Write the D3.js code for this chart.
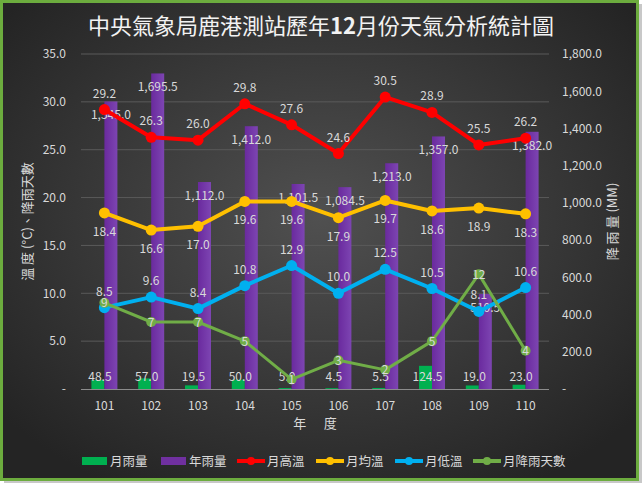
<!DOCTYPE html>
<html><head><meta charset="utf-8">
<script src="https://cdn.jsdelivr.net/npm/d3@7"></script>
<style>
html,body{margin:0;padding:0;background:#fff;}
svg{display:block;}
text{font-family:"Noto Sans CJK TC","Noto Sans",sans-serif;}
</style></head>
<body>
<svg id="c" width="643" height="484"></svg>
<script>
const categories = ["101","102","103","104","105","106","107","108","109","110"];
const monthRain = [48.5,57.0,19.5,50.0,5.0,4.5,5.5,124.5,19.0,23.0];
const yearRain = [1545.0,1695.5,1112.0,1412.0,1101.5,1084.5,1213.0,1357.0,510.5,1382.0];
const highTemp = [29.2,26.3,26.0,29.8,27.6,24.6,30.5,28.9,25.5,26.2];
const avgTemp = [18.4,16.6,17.0,19.6,19.6,17.9,19.7,18.6,18.9,18.3];
const lowTemp = [8.5,9.6,8.4,10.8,12.9,10.0,12.5,10.5,8.1,10.6];
const rainDays = [9,7,7,5,1,3,2,5,12,4];
const leftTicks = [0,5,10,15,20,25,30,35];
const rightTicks = [0,200,400,600,800,1000,1200,1400,1600,1800];
const titleParts = ["中央氣象局鹿港測站歷年","12","月份天氣分析統計圖"];

const svg = d3.select("#c");
const defs = svg.append("defs");
const rg = defs.append("radialGradient").attr("id","bg").attr("cx","50%").attr("cy","45%").attr("r","65%");
rg.append("stop").attr("offset","0%").attr("stop-color","#505050");
rg.append("stop").attr("offset","100%").attr("stop-color","#242424");
const pg = defs.append("linearGradient").attr("id","pur").attr("x1","0").attr("x2","1").attr("y1","0").attr("y2","0");
pg.append("stop").attr("offset","0%").attr("stop-color","#6a2a9e");
pg.append("stop").attr("offset","100%").attr("stop-color","#7d45b2");

// shadow + frame
svg.append("rect").attr("x",4).attr("y",4).attr("width",638).attr("height",479).attr("fill","#c8c8c8");
svg.append("rect").attr("x",1.5).attr("y",1.5).attr("width",636).attr("height",478)
  .attr("fill","url(#bg)").attr("stroke","#6cac3e").attr("stroke-width",3);

const L = 81, R = 549, T = 54, B = 389;
const x = d3.scaleBand().domain(categories).range([L,R]).paddingInner(0).paddingOuter(0);
const yL = d3.scaleLinear().domain([0,35]).range([B,T]);
const yR = d3.scaleLinear().domain([0,1800]).range([B,T]);
const cx = d => x(d) + x.bandwidth()/2;
const fmt1 = d3.format(",.1f");
const lab = "#d9d9d9";

// grid
svg.append("g").selectAll("line").data(leftTicks.filter(t=>t>0)).join("line")
  .attr("x1",L).attr("x2",R).attr("y1",d=>yL(d)).attr("y2",d=>yL(d))
  .attr("stroke","#5a5a5a").attr("stroke-width",1);

// left axis
const axL = svg.append("g").attr("transform",`translate(${L-12},0)`)
  .call(d3.axisLeft(yL).tickValues(leftTicks).tickSize(0).tickFormat(d=>d===0?"-":d3.format(".1f")(d)));
axL.select(".domain").remove();
axL.selectAll("text").attr("fill",lab).attr("font-size",12);
// right axis
const axR = svg.append("g").attr("transform",`translate(${R+13},0)`)
  .call(d3.axisRight(yR).tickValues(rightTicks).tickSize(0).tickFormat(d=>d===0?"-":fmt1(d)));
axR.select(".domain").remove();
axR.selectAll("text").attr("fill",lab).attr("font-size",12).attr("x",0);

// bars
const bw = 13;
svg.append("g").selectAll("rect").data(categories).join("rect")
  .attr("x",d=>cx(d)-bw).attr("width",bw)
  .attr("y",(d,i)=>yR(monthRain[i])).attr("height",(d,i)=>B-yR(monthRain[i]))
  .attr("fill","#00b050");
svg.append("g").selectAll("rect").data(categories).join("rect")
  .attr("x",d=>cx(d)).attr("width",bw)
  .attr("y",(d,i)=>yR(yearRain[i])).attr("height",(d,i)=>B-yR(yearRain[i]))
  .attr("fill","url(#pur)");

// x axis line
svg.append("line").attr("x1",L).attr("x2",R).attr("y1",B+0.5).attr("y2",B+0.5).attr("stroke","#8c8c8c").attr("stroke-width",1.2);
const axX = svg.append("g").attr("transform",`translate(0,${B+9})`).call(d3.axisBottom(x).tickSize(0));
axX.select(".domain").remove();
axX.selectAll("text").attr("fill",lab).attr("font-size",12);

// bar labels
svg.append("g").selectAll("text").data(categories).join("text")
  .attr("x",d=>cx(d)+bw/2).attr("y",(d,i)=>yR(yearRain[i])+18)
  .attr("text-anchor","middle").attr("fill",lab).attr("font-size",12)
  .text((d,i)=>fmt1(yearRain[i]));
svg.append("g").selectAll("text").data(categories).join("text")
  .attr("x",d=>cx(d)-bw/2+2).attr("y",B-8)
  .attr("text-anchor","middle").attr("fill",lab).attr("font-size",12)
  .text((d,i)=>fmt1(monthRain[i]));

// lines
function series(vals, color, w, r, dy, isInt){
  const line = d3.line().x((d,i)=>cx(categories[i])).y(d=>yL(d));
  svg.append("path").datum(vals).attr("d",line).attr("fill","none").attr("stroke",color)
    .attr("stroke-width",w).attr("stroke-linejoin","round");
  svg.append("g").selectAll("circle").data(vals).join("circle")
    .attr("cx",(d,i)=>cx(categories[i])).attr("cy",d=>yL(d)).attr("r",r).attr("fill",color);
  svg.append("g").selectAll("text").data(vals).join("text")
    .attr("x",(d,i)=>cx(categories[i])).attr("y",d=>yL(d)+dy)
    .attr("text-anchor","middle").attr("fill",lab).attr("font-size",12)
    .text(d=>isInt?String(d):d3.format(".1f")(d));
}
series(highTemp,"#ff0000",4,5.5,-12,false);
series(avgTemp,"#ffc000",4,5.5,23,false);
series(lowTemp,"#00b0f0",4,5.5,-12,false);
series(rainDays,"#70ad47",3,5,4.5,true);

// title
const tt = svg.append("text").attr("x",321).attr("y",34).attr("text-anchor","middle")
  .attr("fill","#f2f2f2").attr("font-size",22);
tt.selectAll("tspan").data(titleParts).join("tspan")
  .attr("font-weight",(d,i)=>i===1?"bold":"normal").text(d=>d);

// axis titles
svg.append("text").attr("transform",`translate(32,${(T+B)/2}) rotate(-90)`)
  .attr("text-anchor","middle").attr("fill",lab).attr("font-size",13).text("溫 度 (°C)、降雨天數");
svg.append("text").attr("transform",`translate(617,${(T+B)/2}) rotate(-90)`)
  .attr("text-anchor","middle").attr("fill",lab).attr("font-size",13).text("降 雨 量 (MM)");
svg.append("text").attr("x",315).attr("y",428).attr("text-anchor","middle")
  .attr("fill",lab).attr("font-size",13).attr("xml:space","preserve").text("年      度");

// legend
const legend = [
  {name:"月雨量",color:"#00b050",type:"bar"},
  {name:"年雨量",color:"#7030a0",type:"bar"},
  {name:"月高溫",color:"#ff0000",type:"line"},
  {name:"月均溫",color:"#ffc000",type:"line"},
  {name:"月低溫",color:"#00b0f0",type:"line"},
  {name:"月降雨天數",color:"#70ad47",type:"line"}
];
const lx = [82,161,237,316,395,473];
const lg = svg.append("g").selectAll("g").data(legend).join("g")
  .attr("transform",(d,i)=>`translate(${lx[i]},461)`);
lg.filter(d=>d.type==="bar").append("rect").attr("x",0).attr("y",-4).attr("width",25).attr("height",8).attr("fill",d=>d.color);
lg.filter(d=>d.type==="line").append("line").attr("x1",0).attr("x2",28).attr("y1",0).attr("y2",0).attr("stroke",d=>d.color).attr("stroke-width",4);
lg.filter(d=>d.type==="line").append("circle").attr("cx",14).attr("cy",0).attr("r",4).attr("fill",d=>d.color);
lg.append("text").attr("x",d=>d.type==="bar"?28:30).attr("y",4.5).attr("fill",lab).attr("font-size",12.5).text(d=>d.name);
</script>
</body></html>
